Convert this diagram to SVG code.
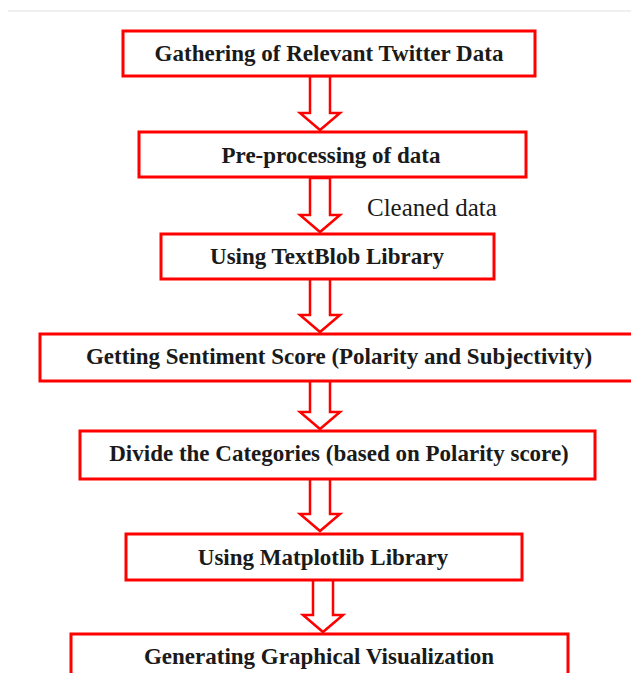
<svg xmlns="http://www.w3.org/2000/svg" width="631" height="673" viewBox="0 0 631 673">
  <style>
    .box { fill: #ffffff; stroke: #ff0000; stroke-width: 3; }
    .lbl { font-family: "Liberation Serif", "Times New Roman", serif; font-weight: bold; font-size: 23px; fill: #1a1a1a; text-anchor: middle; dominant-baseline: central; }
    .note { font-family: "Liberation Serif", "Times New Roman", serif; font-size: 25px; fill: #1a1a1a; }
    .arrow { fill: #ffffff; stroke: #ff0000; stroke-width: 2.5; stroke-linejoin: miter; }
  </style>
  <defs>
    <!-- hollow block arrow, tip at origin, pointing down -->
    <path id="blockArrow" d="M -10 -54 L 10 -54 L 10 -17 L 20 -17 L 0 0 L -20 -17 L -10 -17 Z"/>
  </defs>
  <rect width="631" height="673" fill="#ffffff"/>
  <rect x="8" y="10" width="623" height="2" fill="#f0f0f0"/>

  <g id="connectors">
    <use href="#blockArrow" class="arrow" x="320" y="130"/>
    <use href="#blockArrow" class="arrow" x="320" y="232"/>
    <use href="#blockArrow" class="arrow" x="320" y="332"/>
    <use href="#blockArrow" class="arrow" x="320" y="429"/>
    <use href="#blockArrow" class="arrow" x="320" y="531"/>
    <use href="#blockArrow" class="arrow" x="323" y="632"/>
  </g>

  <g id="gather">
    <rect class="box" x="123" y="31" width="412" height="45"/>
    <text class="lbl" x="329" y="53">Gathering of Relevant Twitter Data</text>
  </g>
  <g id="preprocess">
    <rect class="box" x="139" y="132" width="387" height="45"/>
    <text class="lbl" x="331" y="155">Pre-processing of data</text>
  </g>
  <text class="note" x="367" y="216">Cleaned data</text>
  <g id="textblob">
    <rect class="box" x="161" y="234" width="333" height="45"/>
    <text class="lbl" x="327" y="256">Using TextBlob Library</text>
  </g>
  <g id="sentiment">
    <rect class="box" x="40" y="334" width="600" height="47"/>
    <text class="lbl" x="339" y="356">Getting Sentiment Score (Polarity and Subjectivity)</text>
  </g>
  <g id="categories">
    <rect class="box" x="80" y="431" width="515" height="48"/>
    <text class="lbl" x="339" y="453">Divide the Categories (based on Polarity score)</text>
  </g>
  <g id="matplotlib">
    <rect class="box" x="126" y="534" width="396" height="46"/>
    <text class="lbl" x="323" y="557">Using Matplotlib Library</text>
  </g>
  <g id="visualize">
    <rect class="box" x="71" y="634" width="497" height="60"/>
    <text class="lbl" x="319" y="656">Generating Graphical Visualization</text>
  </g>
</svg>
